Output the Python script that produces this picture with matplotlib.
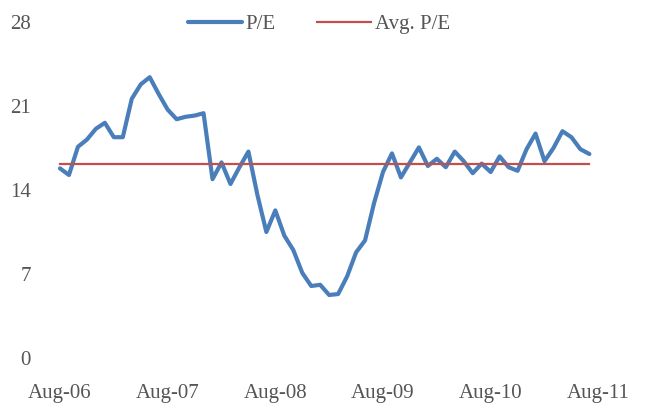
import numpy as np
import pandas as pd
import matplotlib
matplotlib.use("Agg")
import matplotlib.pyplot as plt

# Monthly P/E, Aug-06 .. Jul-11
months = pd.date_range("2006-08-01", periods=60, freq="MS")
pe = [15.8, 15.25, 17.6, 18.2, 19.1, 19.6, 18.4, 18.4, 21.6, 22.8,
      23.4, 22.0, 20.7, 19.9, 20.1, 20.2, 20.4, 14.9, 16.3, 14.5,
      15.9, 17.2, 13.6, 10.5, 12.3, 10.2, 9.0, 7.1, 6.0, 6.1,
      5.25, 5.33, 6.8, 8.8, 9.8, 12.9, 15.5, 17.05, 15.05, 16.3,
      17.55, 16.0, 16.6, 15.9, 17.2, 16.4, 15.4, 16.2, 15.5, 16.8,
      15.9, 15.6, 17.4, 18.7, 16.4, 17.5, 18.9, 18.4, 17.4, 17.0]
avg_pe = 16.2

yticks = [0, 7, 14, 21, 28]
xtick_labels = ["Aug-06", "Aug-07", "Aug-08", "Aug-09", "Aug-10", "Aug-11"]

plt.rcParams["font.family"] = ["Liberation Serif", "DejaVu Serif"]
text_color = "#555555"

fig = plt.figure(figsize=(6.51, 4.16), dpi=100)
ax = fig.add_axes([45 / 651, 58 / 416, 565 / 651, 336 / 416])

idx = np.arange(len(pe))
ax.plot(idx, pe, color="#4A7EBB", linewidth=3.0, solid_joinstyle="round",
        solid_capstyle="round", label="P/E")
ax.plot(idx, [avg_pe] * len(pe), color="#C0504D", linewidth=1.6, label="Avg. P/E")

ax.set_xlim(-1.67, 61.3)
ax.set_ylim(0, 28)
ax.set_yticks(yticks)
ax.set_xticks(np.arange(0, 61, 12))
ax.set_xticklabels(xtick_labels)
ax.tick_params(axis="both", length=0, labelsize=15, colors=text_color)
ax.tick_params(axis="x", pad=19)
ax.tick_params(axis="y", pad=10)
for s in ax.spines.values():
    s.set_visible(False)

fig.legend(loc="center", bbox_to_anchor=(0.49, 0.942), ncol=2, frameon=False,
           fontsize=15, handlelength=2.6, columnspacing=2.0, handletextpad=0.15,
           labelcolor=text_color)

fig.savefig("out.png", dpi=100)
